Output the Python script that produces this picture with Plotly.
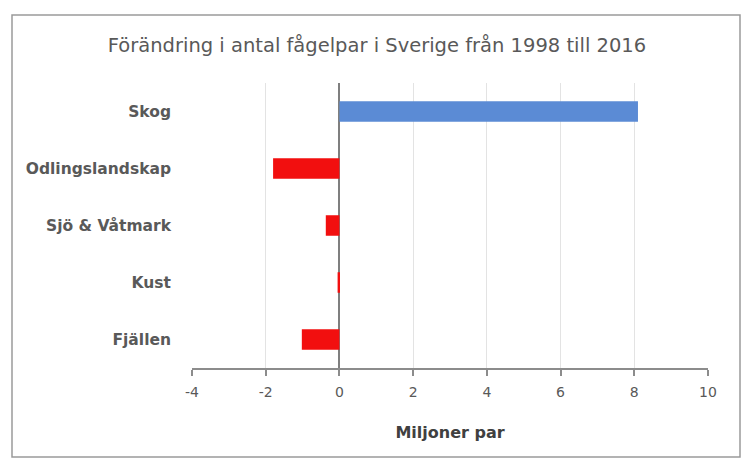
import plotly.graph_objects as go

categories = ["Skog", "Odlingslandskap", "Sjö & Våtmark", "Kust", "Fjällen"]
values = [8.1, -1.8, -0.37, -0.05, -1.02]
bar_colors = ["#5B8BD5" if v > 0 else "#F20F0F" for v in values]
x_ticks = [-4, -2, 0, 2, 4, 6, 8, 10]

FONT = "DejaVu Sans"
GRAY = "#595959"

# page body has an 8px margin; size the figure so it fits the window
OFF = 8
W, H = 753 - OFF, 459 - OFF
PL, PR, PT, PB = 192 - OFF, 708 - OFF, 83 - OFF, 368 - OFF  # plot area in figure px
L, R, T, B = PL, W - PR, PT, H - PB
pw, ph = PR - PL, PB - PT

fig = go.Figure(
    go.Bar(
        x=values,
        y=categories,
        orientation="h",
        marker=dict(color=bar_colors, line=dict(width=0)),
        width=0.36,
    )
)

fig.update_layout(
    width=W,
    height=H,
    margin=dict(l=L, r=R, t=T, b=B),
    paper_bgcolor="white",
    plot_bgcolor="white",
    showlegend=False,
    title=dict(
        text="Förändring i antal fågelpar i Sverige från 1998 till 2016",
        x=(377 - OFF) / W,
        xanchor="center",
        y=1 - (45 - OFF) / H,
        yanchor="middle",
        font=dict(family=FONT, size=19.5, color=GRAY),
    ),
    xaxis=dict(
        range=[-4, 10],
        tickvals=x_ticks,
        ticktext=[str(t) for t in x_ticks],
        showgrid=True,
        gridcolor="#E3E3E3",
        gridwidth=1,
        zeroline=True,
        zerolinecolor="#7F7F7F",
        zerolinewidth=1.5,
        showline=True,
        linecolor="#8C8C8C",
        linewidth=2,
        ticks="outside",
        ticklen=6,
        tickcolor="#8C8C8C",
        tickwidth=1.5,
        ticklabelstandoff=4,
        tickfont=dict(family=FONT, size=14, color=GRAY),
        title=dict(
            text="<b>Miljoner par</b>",
            font=dict(family=FONT, size=16, color="#404040"),
            standoff=28,
        ),
    ),
    yaxis=dict(
        categoryorder="array",
        categoryarray=categories[::-1],
        showgrid=False,
        showline=False,
        ticks="",
        ticklabelstandoff=20,
        tickfont=dict(family=FONT, size=15.5, color=GRAY, weight="bold"),
    ),
    shapes=[
        dict(
            type="rect",
            xref="paper",
            yref="paper",
            x0=((12 - OFF) - PL) / pw,
            x1=((740 - OFF) - PL) / pw,
            y0=-((457 - OFF) - PB) / ph,
            y1=(PB - (15 - OFF)) / ph,
            line=dict(color="#9A9A9A", width=1.5),
            fillcolor="rgba(0,0,0,0)",
            layer="below",
        )
    ],
)

fig.write_html("out.html")
